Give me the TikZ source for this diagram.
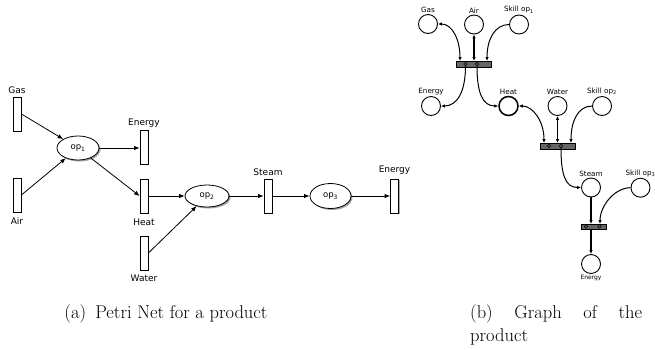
\documentclass[tikz,border=0pt]{standalone}
\usepackage{fontspec}
\newfontfamily\lblfont{DejaVu Sans}
\usetikzlibrary{arrows.meta,shadows,shapes.geometric}

\begin{document}
\begin{tikzpicture}[x=1pt,y=-1pt,
  % Petri net (left)
  place/.style={draw,fill=white,minimum width=8pt,minimum height=34pt,inner sep=0pt,line width=0.8pt,
    drop shadow={shadow xshift=1.2pt,shadow yshift=-1.2pt,fill=gray!80,opacity=0.8}},
  opnode/.style={ellipse,draw,fill=white,inner sep=0pt,line width=0.8pt,font=\lblfont\fontsize{8.5}{9}\selectfont,
    drop shadow={shadow xshift=1.5pt,shadow yshift=-1.5pt,fill=gray!80,opacity=0.9}},
  alab/.style={font=\lblfont\fontsize{9}{10}\selectfont,inner sep=1pt},
  arc/.style={line width=0.8pt,-{Latex[length=5.5pt,width=4.5pt]}},
  % resource graph (right)
  res/.style={circle,draw,minimum size=19pt,inner sep=0pt,line width=0.9pt},
  blab/.style={font=\lblfont\fontsize{7.2}{8}\selectfont,inner sep=1pt},
  bar/.style={draw,fill=black!60,inner sep=0pt,line width=0.7pt},
  port/.style={circle,draw,fill=black!60,minimum size=3.4pt,inner sep=0pt,line width=0.6pt},
  link/.style={line width=1pt,-{Latex[length=4pt,width=3.5pt]}},
  blink/.style={line width=1pt,{Latex[length=4pt,width=3.5pt]}-{Latex[length=4pt,width=3.5pt]}},
  thick link/.style={line width=1.6pt},
  captxt/.style={inner sep=0pt,font=\fontsize{18.5}{22}\selectfont},
]
\useasboundingbox (0,0) rectangle (655,349);

% ---------------- Petri net ----------------
\node[place,label={[alab,label distance=2pt]above:Gas}] (aGas) at (17,114) {};
\node[place,label={[alab,label distance=4pt]below:Air}] (aAir) at (17,195) {};
\node[opnode,minimum width=42pt,minimum height=24pt] (op1) at (78,148) {op\textsubscript{1}};
\node[place,label={[alab,label distance=1pt]above:Energy}] (aEn1) at (144,147) {};
\node[place,label={[alab,label distance=4pt]below:Heat}] (aHeat) at (144,196) {};
\node[place,label={[alab,label distance=3pt]below:Water}] (aWater) at (144,253) {};
\node[opnode,minimum width=44pt,minimum height=22pt] (op2) at (207,196) {op\textsubscript{2}};
\node[place,label={[alab,label distance=2pt]above:Steam}] (aSteam) at (268,196) {};
\node[opnode,minimum width=41pt,minimum height=25pt] (op3) at (330.5,196) {op\textsubscript{3}};
\node[place,label={[alab,label distance=3pt]above:Energy}] (aEn2) at (394.5,196) {};

\draw[arc] (aGas.east) -- (op1);
\draw[arc] (aAir.east) -- (op1);
\draw[arc] (op1) -- (aEn1.west |- op1);
\draw[arc] (op1) -- (aHeat.west);
\draw[arc] (aWater.east) -- (op2);
\draw[arc] (aHeat.east) -- (op2.west);
\draw[arc] (op2.east) -- (aSteam.west);
\draw[arc] (aSteam.east) -- (op3.west);
\draw[arc] (op3.east) -- (aEn2.west);

% ---------------- resource graph ----------------
% first level
\node[res,label={[blab,label distance=0pt]above:Gas}] (bGas) at (428,24) {};
\node[res,label={[blab,label distance=0pt]above:Air}] (bAir) at (474,24.5) {};
\node[res,label={[blab,label distance=0pt]above:Skill op\textsubscript{1}}] (bSk1) at (519,24.5) {};
\node[bar,minimum width=35pt,minimum height=6pt] (t1) at (473.5,64) {};
\node[port] (t1a) at (465.5,64) {};
\node[port] (t1b) at (477,64) {};
\coordinate (t1in1) at (460,61);
\coordinate (t1in2) at (474,61);
\coordinate (t1in3) at (487,61);

\draw[blink] (bGas.east) .. controls +(14,0) and +(0,-22) .. (t1in1);
\draw[thick link,{Latex[length=4pt,width=3.5pt]}-{Latex[length=4pt,width=3.5pt]}] (bAir.south) -- (t1in2);
\draw[link] (bSk1.west) .. controls +(-14,0) and +(0,-22) .. (t1in3);

% second level
\node[res,label={[blab,label distance=0pt]above:Energy}] (bEn1) at (431,106) {};
\node[res,line width=1.5pt,label={[blab,label distance=0pt]above:Heat}] (bHeat) at (508.5,106) {};
\node[res,label={[blab,label distance=0pt]above:Water}] (bWater) at (557.5,106) {};
\node[res,label={[blab,label distance=0pt]above:Skill op\textsubscript{2}}] (bSk2) at (602,106) {};

\draw[link] (t1a.south) .. controls +(0,26) and +(16,0) .. (bEn1.east);
\draw[link] (t1b.south) .. controls +(0,26) and +(-16,0) .. (bHeat.west);

\node[bar,minimum width=35pt,minimum height=6pt] (t2) at (557.5,146) {};
\node[port] (t2a) at (549,146) {};
\node[port] (t2b) at (561,146) {};
\coordinate (t2in1) at (544,143);
\coordinate (t2in2) at (557.5,143);
\coordinate (t2in3) at (571,143);

\draw[blink] (bHeat.east) .. controls +(14,0) and +(0,-22) .. (t2in1);
\draw[thick link,{Latex[length=4pt,width=3.5pt]}-{Latex[length=4pt,width=3.5pt]}] (bWater.south) -- (t2in2);
\draw[link] (bSk2.west) .. controls +(-14,0) and +(0,-22) .. (t2in3);

% third level
\node[res,label={[blab,label distance=0pt]above:Steam}] (bSteam) at (591,187.5) {};
\node[res,label={[blab,label distance=0pt]above:Skill op\textsubscript{3}}] (bSk3) at (640.5,187.7) {};

\draw[link] (t2b.south) .. controls +(0,26) and +(-16,0) .. (bSteam.west);

\node[bar,minimum width=25pt,minimum height=5pt] (t3) at (593.5,226.5) {};
\node[port] (t3a) at (586,226.5) {};
\node[port] (t3b) at (599.5,226.5) {};
\coordinate (t3in1) at (591,224);
\coordinate (t3in2) at (600,224);
\coordinate (t3out) at (591,229);

\draw[thick link,-{Latex[length=4pt,width=3.5pt]}] (bSteam.south) -- (t3in1);
\draw[link] (bSk3.west) .. controls +(-16,0) and +(0,-18) .. (t3in2);

\node[res,label={[font=\lblfont\fontsize{6}{7}\selectfont,inner sep=1pt,label distance=0pt]below:Energy}] (bEn2) at (591,264) {};
\draw[thick link,-{Latex[length=4pt,width=3.5pt]}] (t3out) -- (bEn2.north);

% ---------------- captions ----------------
\node[captxt,anchor=base] (capa) at (166,318) {(a)\enspace Petri Net for a product};
\node[captxt,anchor=base west] (capb) at (470,318) {\makebox[172pt][s]{(b) Graph of the}};
\node[captxt,anchor=base west] (capc) at (470,341) {product};
\end{tikzpicture}
\end{document}
